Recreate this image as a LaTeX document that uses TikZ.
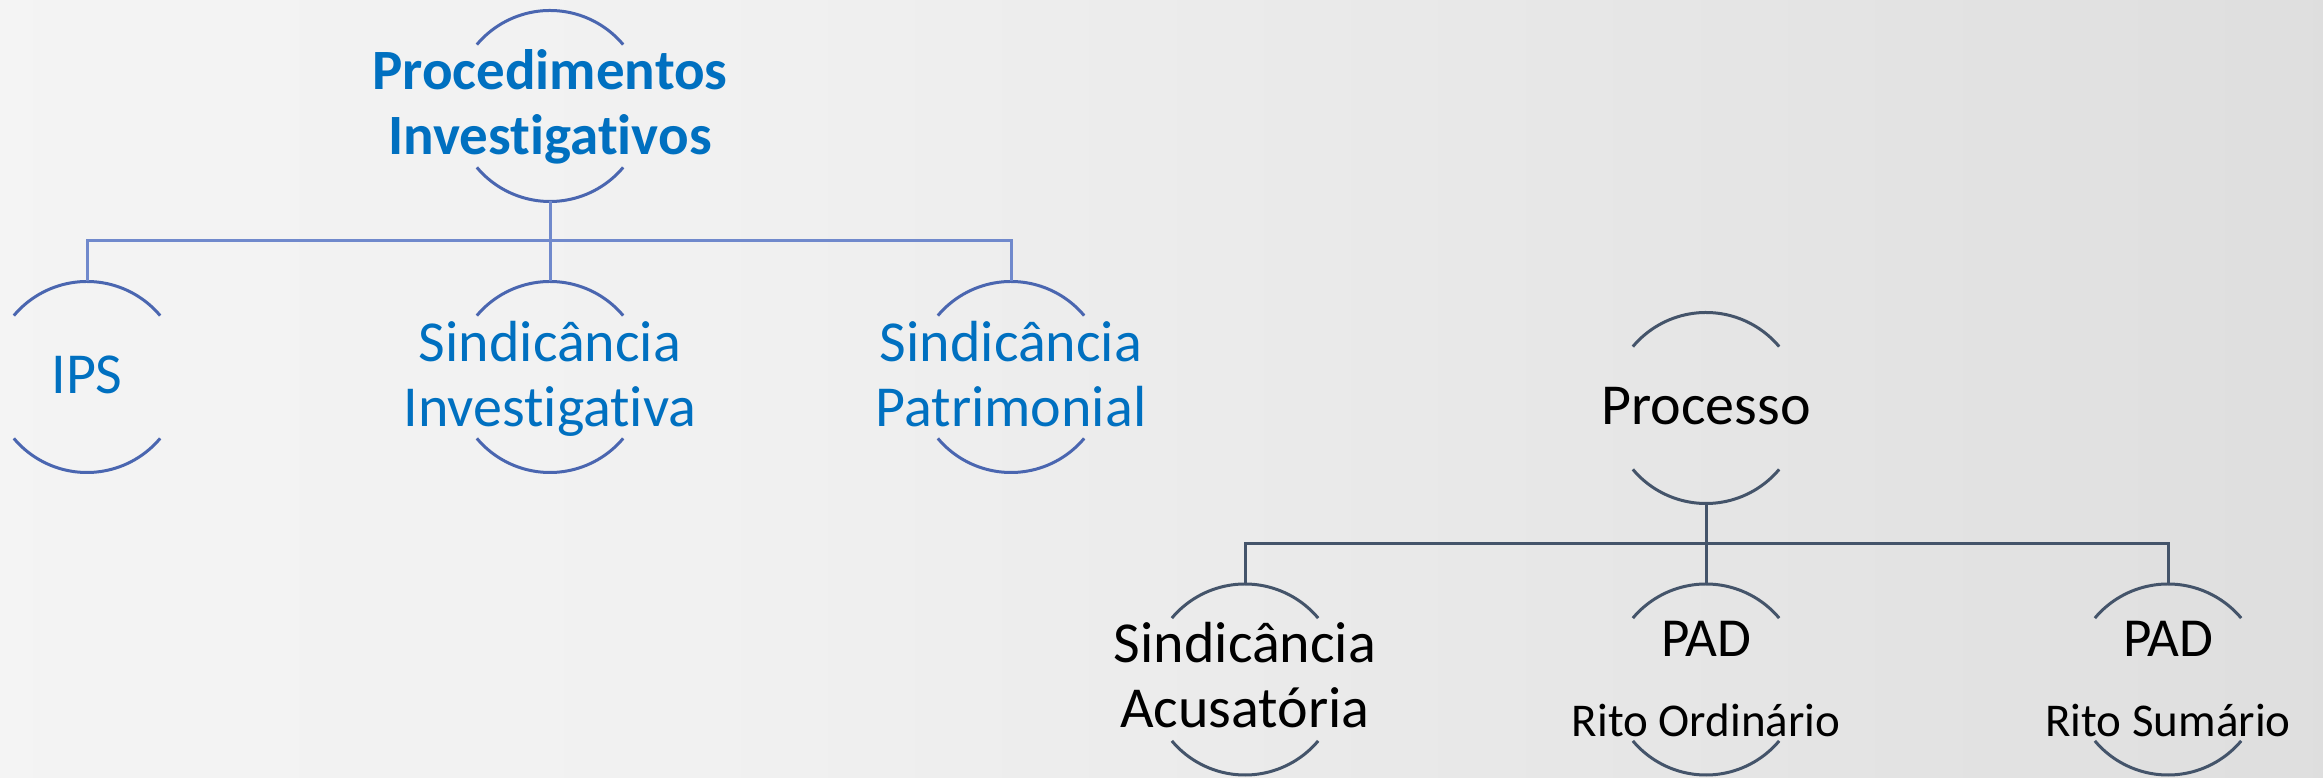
\documentclass[tikz,border=0pt]{standalone}
\usepackage{fontspec}
\setmainfont{Carlito}[Ligatures=NoCommon]
\usetikzlibrary{calc}
\definecolor{blueTxt}{HTML}{0070C0}
\definecolor{blueArc}{HTML}{4A66B0}
\definecolor{blueLine}{HTML}{7089CC}
\definecolor{slate}{HTML}{44546A}
\definecolor{bgA}{HTML}{F8F8F8}
\definecolor{bgB}{HTML}{F1F1F1}
\definecolor{bgC}{HTML}{E9E9E9}
\definecolor{bgD}{HTML}{D8D8D8}
\definecolor{bgE}{HTML}{DFDFDF}
\pgfdeclarehorizontalshading{bgshade}{100bp}{color(0bp)=(bgA); color(40bp)=(bgB); color(55bp)=(bgC); color(87bp)=(bgD); color(100bp)=(bgE)}
\newcommand\arcpair[2]{%
  \draw[#2] (#1.40) arc[start angle=40,end angle=140,radius=95.5bp];
  \draw[#2] (#1.220) arc[start angle=220,end angle=320,radius=95.5bp];}
\begin{document}
\begin{tikzpicture}[x=1bp,y=1bp,
  hub/.style={circle, minimum size=191bp, inner sep=0pt, outer sep=0pt, draw=none},
  arcL/.style={draw=blueArc, line width=3bp},
  arcR/.style={draw=slate, line width=3bp},
  connL/.style={draw=blueLine, line width=3bp},
  connR/.style={draw=slate, line width=3bp},
  txt/.style={anchor=base, align=center, inner sep=0pt, font=\fontsize{58bp}{65bp}\selectfont},
  txtL/.style={txt, text=blueTxt},
  txtR/.style={txt, text=black}]
\useasboundingbox (0,0) rectangle (2323,777);
\shade[shading=bgshade] (0,0) rectangle (2323,777);

% left hierarchy
\node[hub] (pi) at (550,671) {};
\node[hub] (ips) at (87,400) {};
\node[hub] (si) at (550,400) {};
\node[hub] (sp) at (1011,400) {};
\coordinate (bus1) at (550,536);
\arcpair{pi}{arcL}
\arcpair{ips}{arcL}
\arcpair{si}{arcL}
\arcpair{sp}{arcL}
\draw[connL] (pi.south) -- (bus1);
\draw[connL] (bus1) -| (ips.north);
\draw[connL] (bus1) -| (sp.north);
\draw[connL] (bus1) -- (si.north);
\node[txtL, font=\fontsize{57bp}{65bp}\selectfont\bfseries] (pi-t) at (550,622) {Procedimentos\\Investigativos};
\node[txtL] (ips-t) at (87,383) {IPS};
\node[txtL] (si-t) at (550,350) {Sindicância\\Investigativa};
\node[txtL] (sp-t) at (1011,350) {Sindicância\\Patrimonial};

% right hierarchy
\node[hub] (pr) at (1706,369) {};
\node[hub] (sa) at (1245,97.5) {};
\node[hub] (po) at (1706,97.5) {};
\node[hub] (ps) at (2168,97.5) {};
\coordinate (bus2) at (1706,233);
\arcpair{pr}{arcR}
\arcpair{sa}{arcR}
\arcpair{po}{arcR}
\arcpair{ps}{arcR}
\draw[connR] (pr.south) -- (bus2);
\draw[connR] (bus2) -| (sa.north);
\draw[connR] (bus2) -| (ps.north);
\draw[connR] (bus2) -- (po.north);
\node[txtR] (pr-t) at (1706,352) {Processo};
\node[txtR] (sa-t) at (1245,49) {Sindicância\\Acusatória};
\node[txtR, font=\fontsize{55bp}{65bp}\selectfont] (po-t) at (1706,120) {PAD};
\node[txtR, font=\fontsize{47bp}{56bp}\selectfont] (po-s) at (1706,40) {Rito Ordinário};
\node[txtR, font=\fontsize{55bp}{65bp}\selectfont] (ps-t) at (2168,120) {PAD};
\node[txtR, font=\fontsize{47bp}{56bp}\selectfont] (ps-s) at (2168,40) {Rito Sumário};
\end{tikzpicture}
\end{document}
